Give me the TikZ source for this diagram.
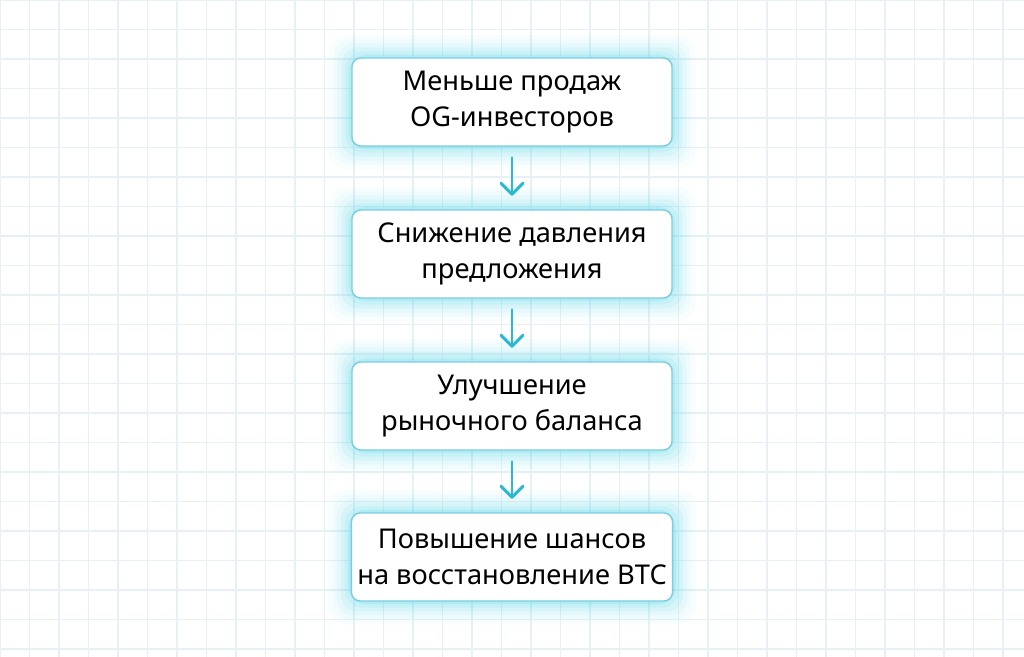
\documentclass[tikz,border=0pt]{standalone}
\usepackage{fontspec}
\setmainfont{Noto Sans}
\usetikzlibrary{positioning}
\definecolor{gridblue}{HTML}{E6F1F6}
\definecolor{glowcyan}{HTML}{3FD3EA}
\definecolor{arrowcyan}{HTML}{2BB8D6}
\definecolor{edgeblue}{HTML}{7FCCE0}
\tikzset{
  stepbox/.style={draw=edgeblue, line width=0.8pt, fill=white, rounded corners=5pt,
    minimum width=6.4cm, minimum height=1.76cm, align=center, font=\fontsize{15.5}{20.5}\selectfont},
  flowarrow/.style={draw=arrowcyan, line width=1.7pt, line cap=round}
}
\newcommand{\glowbox}[1]{%
  \foreach \g/\o in {0.45/0.03,0.36/0.04,0.28/0.06,0.20/0.08,0.12/0.11,0.05/0.16}{
    \fill[glowcyan, opacity=\o, rounded corners=10pt]
      ([shift={(-\g,-\g)}]#1.south west) rectangle ([shift={(\g,\g)}]#1.north east);
  }}
\begin{document}
\begin{tikzpicture}
  \fill[white] (0,0) rectangle (20.48,-13.14);
  \useasboundingbox (0,0) rectangle (20.48,-13.14);
  \clip (0,0) rectangle (20.48,-13.14);
  \draw[gridblue, line width=0.6pt, step=0.59] (0,-13.14) grid (20.48,0);

  \node[stepbox, opacity=0] (b1) at (10.24,-2.04) {Меньше продаж\\OG-инвесторов};
  \node[stepbox, opacity=0] (b2) at (10.24,-5.08) {Снижение давления\\предложения};
  \node[stepbox, opacity=0] (b3) at (10.24,-8.12) {Улучшение\\рыночного баланса};
  \node[stepbox, opacity=0] (b4) at (10.24,-11.14) {Повышение шансов\\на восстановление BTC};
  \glowbox{b1}\glowbox{b2}\glowbox{b3}\glowbox{b4}
  \node[stepbox] at (b1) {Меньше продаж\\OG-инвесторов};
  \node[stepbox] at (b2) {Снижение давления\\предложения};
  \node[stepbox] at (b3) {Улучшение\\рыночного баланса};
  \node[stepbox] at (b4) {Повышение шансов\\на восстановление BTC};

  \foreach \a/\b in {b1/b2,b2/b3,b3/b4}{
    \draw[flowarrow] ([yshift=-0.22cm]\a.south) -- ([yshift=0.3cm]\b.north);
    \draw[flowarrow, line join=round] ([xshift=-0.22cm,yshift=0.52cm]\b.north) -- ([yshift=0.3cm]\b.north) -- ([xshift=0.22cm,yshift=0.52cm]\b.north);
  }
\end{tikzpicture}
\end{document}
